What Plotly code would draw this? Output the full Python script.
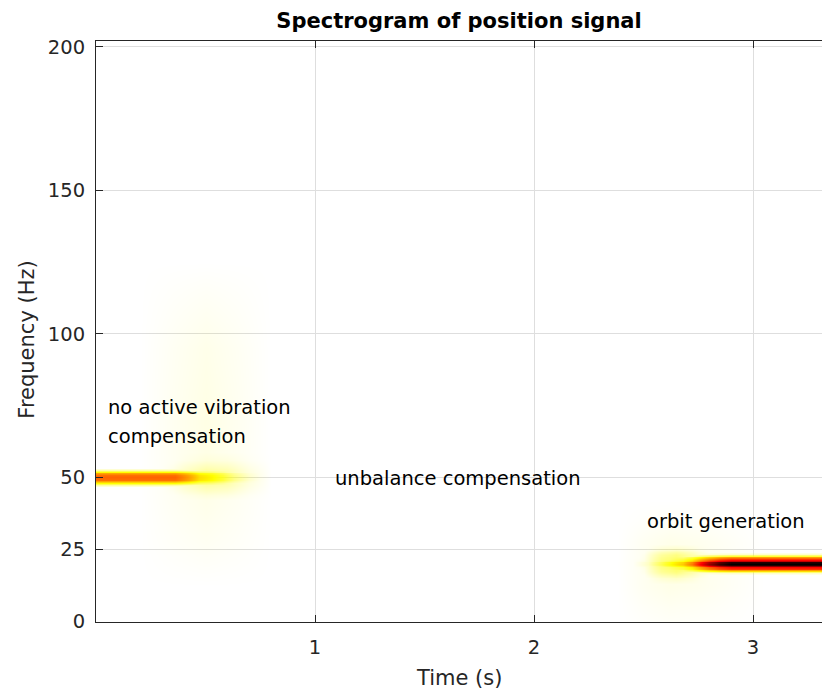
import numpy as np
import plotly.graph_objects as go

# ---------------- data ----------------
# Ridge at 50 Hz (no active vibration compensation), level on a 0..1 scale
ridge50_freq = 50.0
ridge50_t = [0.0, 0.36, 0.42, 0.47, 0.53, 0.58, 0.63, 0.70, 0.78]
ridge50_lvl = [0.48, 0.48, 0.40, 0.30, 0.26, 0.20, 0.12, 0.05, 0.0]
ridge50_df = [0.0, 0.9, 1.4, 2.0, 2.6, 3.4]
ridge50_rel = [1.0, 0.96, 0.80, 0.52, 0.18, 0.0]

# Halo just around the fading 50 Hz ridge
halo50_t = [0.30, 0.40, 0.50, 0.60, 0.70, 0.80]
halo50_lvl = [0.0, 0.07, 0.12, 0.10, 0.04, 0.0]
halo50_df = [0.0, 3.0, 6.0, 9.0]
halo50_rel = [1.0, 0.7, 0.3, 0.0]

# Broad faint glow around t = 0.5 s
glow50_t = [0.20, 0.35, 0.50, 0.65, 0.80]
glow50_lvl = [0.0, 0.014, 0.026, 0.014, 0.0]
glow50_f = [12.0, 25.0, 45.0, 70.0, 95.0, 115.0, 125.0]
glow50_rel = [0.0, 0.4, 0.9, 1.0, 0.8, 0.3, 0.0]

# Ridge at ~20 Hz (orbit generation)
ridge21_freq = 19.9
ridge21_t = [2.45, 2.52, 2.58, 2.63, 2.68, 2.72, 2.76, 2.80, 2.85, 2.90, 3.40]
ridge21_lvl = [0.0, 0.06, 0.17, 0.26, 0.33, 0.45, 0.62, 0.78, 0.92, 1.0, 1.0]
ridge21_df = [0.0, 0.5, 0.8, 1.2, 1.8, 2.3, 2.8, 3.3, 4.0]
ridge21_rel = [1.0, 0.95, 0.80, 0.62, 0.55, 0.40, 0.20, 0.05, 0.0]

# Yellow blob at the onset of the 20 Hz ridge
halo21_t = [2.48, 2.58, 2.65, 2.72, 2.82]
halo21_lvl = [0.0, 0.14, 0.18, 0.12, 0.0]
halo21_df = [0.0, 3.0, 5.0, 7.0]
halo21_rel = [1.0, 0.7, 0.3, 0.0]

# Faint glow around the onset of the 20 Hz ridge
glow21_t = [2.38, 2.50, 2.62, 2.75, 2.90, 3.05]
glow21_lvl = [0.0, 0.015, 0.025, 0.02, 0.01, 0.0]
glow21_f = [0.0, 5.0, 12.0, 20.0, 28.0, 35.0, 42.0]
glow21_rel = [0.3, 0.5, 0.9, 1.0, 0.8, 0.3, 0.0]

x_ticks = [1, 2, 3]
y_ticks = [0, 25, 50, 100, 150, 200]

labels = ["no active vibration", "compensation", "unbalance compensation", "orbit generation"]
label_t = [0.046, 0.046, 1.082, 2.507]
label_f = [74.2, 64.4, 49.8, 34.5]

# ---------------- build the spectrogram grid ----------------
ridges = [
    (ridge50_freq, ridge50_t, ridge50_lvl, ridge50_df, ridge50_rel),
    (ridge50_freq, halo50_t, halo50_lvl, halo50_df, halo50_rel),
    (ridge21_freq, ridge21_t, ridge21_lvl, ridge21_df, ridge21_rel),
    (ridge21_freq, halo21_t, halo21_lvl, halo21_df, halo21_rel),
]
glows = [
    (glow50_t, glow50_lvl, glow50_f, glow50_rel),
    (glow21_t, glow21_lvl, glow21_f, glow21_rel),
]

t_nodes = set(np.round(np.arange(0, 3.40, 0.05), 3))
f_nodes = set(np.arange(0, 205, 5.0))
for c, tt, _, df, _ in ridges:
    t_nodes.update(tt)
    for d in df:
        f_nodes.update([c - d, c + d])
for tt, _, ff, _ in glows:
    t_nodes.update(tt)
    f_nodes.update(ff)
T = np.array(sorted(t for t in t_nodes if 0 <= t <= 3.4))
F = np.array(sorted(f for f in f_nodes if 0 <= f <= 202))

Z = np.zeros((len(F), len(T)))
for c, tt, lv, df, rel in ridges:
    Z = np.maximum(Z, np.outer(np.interp(np.abs(F - c), df, rel, right=0.0), np.interp(T, tt, lv)))
for tt, lv, ff, rel in glows:
    Z = np.maximum(Z, np.outer(np.interp(F, ff, rel, left=rel[0], right=0.0), np.interp(T, tt, lv)))

# reversed "hot" colormap; low end transparent so the grid shows through
colorscale = [
    [0.0, "rgba(255,255,0,0)"],
    [0.25, "rgba(255,255,0,1)"],
    [0.625, "rgb(255,0,0)"],
    [1.0, "rgb(0,0,0)"],
]

FONT = "DejaVu Sans"
AX = "#262626"
GRID = "#dedede"

fig = go.Figure()
fig.add_trace(go.Heatmap(x=T, y=F, z=Z, zmin=0, zmax=1, zsmooth="best",
                         colorscale=colorscale, showscale=False, hoverinfo="skip"))
fig.add_trace(go.Scatter(x=[], y=[], xaxis="x2", showlegend=False, hoverinfo="skip"))

annotations = []
for txt, tx, fy in zip(labels, label_t, label_f):
    annotations.append(dict(x=tx, y=fy, xref="x", yref="y", text=txt, showarrow=False,
                            xanchor="left", yanchor="middle",
                            font=dict(family=FONT, size=19.5, color="#000000")))
annotations.append(dict(x=0.5, y=-0.0964, xref="paper", yref="paper", text="Time (s)",
                        showarrow=False, xanchor="center", yanchor="middle",
                        font=dict(family=FONT, size=21, color=AX)))
annotations.append(dict(x=-0.095, y=0.486, xref="paper", yref="paper", text="Frequency (Hz)",
                        showarrow=False, xanchor="center", yanchor="middle", textangle=-90,
                        font=dict(family=FONT, size=21, color=AX)))

fig.update_layout(
    width=823, height=695,
    margin=dict(l=96, r=1, t=41, b=73),
    paper_bgcolor="white", plot_bgcolor="white",
    title=dict(text="<b>Spectrogram of position signal</b>", x=0.5, xref="paper",
               y=(695 - 21) / 695, yref="container", yanchor="middle", xanchor="center",
               font=dict(family=FONT, size=21, color="#000000")),
    xaxis=dict(range=[0, 3.315], tickvals=x_ticks, ticks="inside", ticklen=7,
               tickcolor=AX, showline=True, linecolor=AX, linewidth=1,
               showgrid=True, gridcolor=GRID, zeroline=False,
               tickfont=dict(family=FONT, size=19.5, color=AX), ticklabelstandoff=8),
    xaxis2=dict(range=[0, 3.315], overlaying="x", side="top", tickvals=x_ticks,
                ticks="inside", ticklen=7, tickcolor=AX, showline=True, linecolor=AX,
                linewidth=1, showgrid=False, zeroline=False, showticklabels=False),
    yaxis=dict(range=[-0.35, 202], tickvals=y_ticks, ticks="inside", ticklen=7,
               tickcolor=AX, showline=True, linecolor=AX, linewidth=1,
               showgrid=True, gridcolor=GRID, zeroline=False,
               tickfont=dict(family=FONT, size=19.5, color=AX), ticklabelstandoff=6),
    annotations=annotations,
)

fig.write_html("out.html")
